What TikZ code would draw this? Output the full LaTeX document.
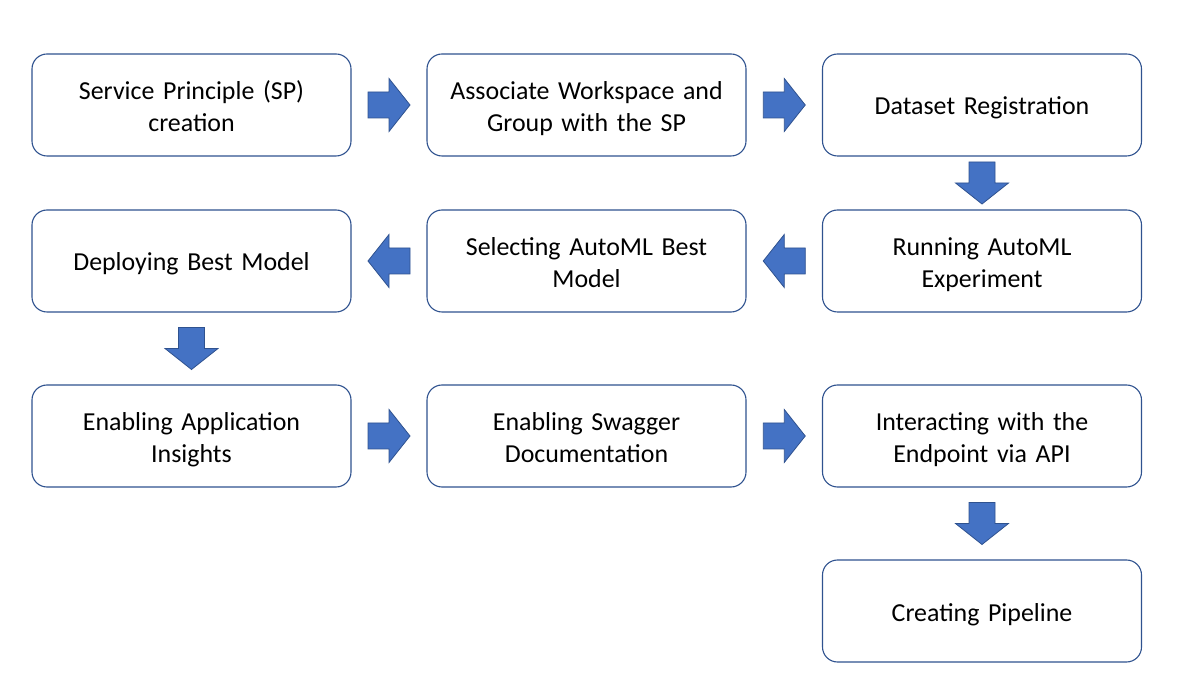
\documentclass[tikz,border=0pt]{standalone}
\usepackage{fontspec}
\setmainfont{Carlito}
\usetikzlibrary{calc}
\definecolor{boxline}{HTML}{2F528F}
\definecolor{arrowfill}{HTML}{4472C4}
\tikzset{
  stepbox/.style={draw=boxline, line width=1.1pt, rounded corners=15pt, fill=white,
    minimum width=319pt, minimum height=102pt, inner sep=0pt, align=center,
    text width=310pt, font=\fontsize{25.9}{32}\selectfont,
    text height=20pt, text depth=30pt},
  oneline/.style={text height=25pt, text depth=5pt},
  barrow/.style={fill=arrowfill, draw=boxline, line width=0.8pt, line join=miter}
}
\newcommand\blockarrow[2]{%
  \draw[barrow, shift={(#1)}, rotate=#2]
    (-21,-13) -- (0,-13) -- (0,-26.5) -- (21,0) -- (0,26.5) -- (0,13) -- (-21,13) -- cycle;}
\begin{document}
\begin{tikzpicture}[x=1pt,y=1pt]
\useasboundingbox (0,0) rectangle (1189,686);
\node[stepbox] (sp)  at (191.5,581) {Service Principle (SP)\\creation};
\node[stepbox] (ws)  at (586.5,581) {Associate Workspace and\\Group with the SP};
\node[stepbox, oneline] (ds)  at (982,581)   {Dataset Registration};
\node[stepbox] (run) at (982,425)   {Running AutoML\\Experiment};
\node[stepbox] (sel) at (586.5,425) {Selecting AutoML Best\\Model};
\node[stepbox, oneline] (dep) at (191.5,425) {Deploying Best Model};
\node[stepbox] (ins) at (191.5,250) {Enabling Application\\Insights};
\node[stepbox] (swa) at (586.5,250) {Enabling Swagger\\Documentation};
\node[stepbox] (api) at (982,250)   {Interacting with the\\Endpoint via API};
\node[stepbox, oneline] (pip) at (982,75)    {Creating Pipeline};
\coordinate (a1) at ($(sp.east)!0.5!(ws.west)$);
\coordinate (a2) at ($(ws.east)!0.5!(ds.west)$);
\coordinate (a3) at ($(ds.south)!0.5!(run.north)$);
\coordinate (a4) at ($(run.west)!0.5!(sel.east)$);
\coordinate (a5) at ($(sel.west)!0.5!(dep.east)$);
\coordinate (a6) at ($(dep.south)!0.5!(ins.north)$);
\coordinate (a7) at ($(ins.east)!0.5!(swa.west)$);
\coordinate (a8) at ($(swa.east)!0.5!(api.west)$);
\coordinate (a9) at ($(api.south)!0.5!(pip.north)$);
\blockarrow{a1}{0}
\blockarrow{a2}{0}
\blockarrow{a3}{-90}
\blockarrow{a4}{180}
\blockarrow{a5}{180}
\blockarrow{a6}{-90}
\blockarrow{a7}{0}
\blockarrow{a8}{0}
\blockarrow{a9}{-90}
\end{tikzpicture}
\end{document}
